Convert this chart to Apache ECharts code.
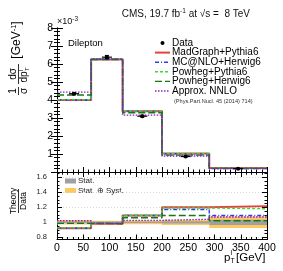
<!DOCTYPE html>
<html>
<head>
<meta charset="utf-8">
<script src="https://cdn.jsdelivr.net/npm/echarts@6/dist/echarts.min.js"></script>
<style>html,body{margin:0;padding:0;background:#fff}#c{width:283px;height:271px}</style>
</head>
<body>
<div id="c"></div>
<script>
// ---- data (top panel values are in units of 1e-3 GeV^-1) ----
const binEdges = [0, 65, 125, 200, 290, 400];
const dataVals = [4.35, 6.38, 3.10, 0.86, 0.185];
const dataErr  = [0.06, 0.09, 0.05, 0.03, 0.015];
const madgraphPythia = [4.00, 6.25, 3.38, 1.03, 0.225];
const mcatnloHerwig  = [4.00, 6.28, 3.38, 1.01, 0.200];
const powhegPythia   = [4.02, 6.28, 3.38, 1.02, 0.218];
const powhegHerwig   = [4.28, 6.25, 3.29, 0.94, 0.189];
const approxNNLO     = [4.44, 6.28, 3.16, 0.89, 0.198];
// ratio panel (Theory/Data)
const ratioMadgraph = [0.92, 0.98, 1.09, 1.20, 1.215];
const ratioMcatnlo  = [0.92, 0.985, 1.09, 1.17, 1.09];
const ratioPowPy    = [0.925, 0.985, 1.09, 1.19, 1.18];
const ratioPowHw    = [0.985, 0.98, 1.06, 1.09, 1.02];
const ratioNNLO     = [1.02, 0.985, 1.025, 1.04, 1.07];
const statHalf  = [0.010, 0.010, 0.010, 0.015, 0.035];
const totalHalf = [0.030, 0.020, 0.025, 0.035, 0.078];
const topYTicks = [1, 2, 3, 4, 5, 6, 7, 8];
const ratioYTicks = [0.8, 1.0, 1.2, 1.4, 1.6];

const FONT = 'Liberation Sans, Arial, sans-serif';
const styles = {
  madgraph: {color: '#e8413c', width: 2, type: 'solid'},
  mcatnlo:  {color: '#2a3cf0', width: 1.4, type: [4, 2, 1, 2]},
  powpy:    {color: '#33dd33', width: 1.4, type: [3, 2]},
  powhw:    {color: '#137a13', width: 1.4, type: [7, 3]},
  nnlo:     {color: '#8a1fd0', width: 1.4, type: [1.5, 1.5]}
};

function stepData(vals) {
  return binEdges.map((e, i) => [e, vals[Math.min(i, vals.length - 1)]]);
}
function stepSeries(vals, st, xi, yi, z) {
  return {type: 'line', step: 'end', data: stepData(vals), xAxisIndex: xi, yAxisIndex: yi,
    showSymbol: false, symbol: 'none', z: z, animation: false, silent: true,
    lineStyle: {color: st.color, width: st.width, type: st.type}};
}
function range(a, b, s) { const r = []; for (let v = a; v <= b + 1e-9; v += s) r.push(+v.toFixed(4)); return r; }

const chart = echarts.init(document.getElementById('c'), null, {renderer: 'canvas'});

const G0 = {left: 57, top: 28, width: 210, height: 144};
const G1 = {left: 57, top: 172, width: 210, height: 67.5};

const axLine = {show: true, lineStyle: {color: '#000', width: 1}};
function xAx(grid, pos, labels) {
  return {type: 'value', gridIndex: grid, position: pos, min: 0, max: 400, interval: 50,
    axisLine: axLine, splitLine: {show: false},
    axisTick: {show: true, inside: true, length: 5, lineStyle: {color: '#000'}},
    minorTick: {show: true, splitNumber: 5, length: 2.5, lineStyle: {color: '#000'}},
    axisLabel: labels ? {show: true, fontSize: 10.5, color: '#000', fontFamily: FONT, margin: 3,
      showMinLabel: true, showMaxLabel: true} : {show: false}};
}
const ratioMinor = range(0.8, 1.65, 0.05);
function rY(pos, minor, labels) {
  return {type: 'value', gridIndex: 1, position: pos, min: 0.77, max: 1.67, offset: 0,
    axisLine: axLine,
    splitLine: (labels ? {show: true, lineStyle: {color: '#d8d8d8', type: [1, 2], width: 1}} : {show: false}),
    axisTick: {show: true, inside: true, length: minor ? 2.5 : 5, customValues: minor ? ratioMinor : ratioYTicks, lineStyle: {color: '#000'}},
    axisLabel: labels ? {show: true, fontSize: 7.5, color: '#222', fontFamily: FONT, margin: 10,
      customValues: ratioYTicks, formatter: v => String(+v.toFixed(1))} : {show: false}};
}

const option = {
  animation: false,
  backgroundColor: '#fff',
  grid: [
    Object.assign({containLabel: false}, G0),
    Object.assign({containLabel: false}, G1)
  ],
  xAxis: [xAx(0, 'bottom', false), xAx(0, 'top', false), xAx(1, 'bottom', true), xAx(1, 'top', false)],
  yAxis: [
    {type: 'value', gridIndex: 0, position: 'left', min: 0, max: 8, interval: 1,
      axisLine: axLine, splitLine: {show: false},
      axisTick: {show: true, inside: true, length: 6, lineStyle: {color: '#000'}},
      minorTick: {show: true, splitNumber: 5, length: 3, lineStyle: {color: '#000'}},
      axisLabel: {show: true, fontSize: 10.5, color: '#000', fontFamily: FONT, margin: 4,
        formatter: v => (topYTicks.indexOf(v) >= 0 ? String(v) : '')}},
    {type: 'value', gridIndex: 0, position: 'right', min: 0, max: 8, interval: 1,
      axisLine: axLine, splitLine: {show: false},
      axisTick: {show: true, inside: true, length: 6, lineStyle: {color: '#000'}},
      minorTick: {show: true, splitNumber: 5, length: 3, lineStyle: {color: '#000'}},
      axisLabel: {show: false}},
    rY('left', false, true), rY('left', true, false), rY('right', false, false), rY('right', true, false)
  ],
  series: [
    stepSeries(madgraphPythia, styles.madgraph, 0, 0, 2),
    stepSeries(mcatnloHerwig, styles.mcatnlo, 0, 0, 3),
    stepSeries(powhegPythia, styles.powpy, 0, 0, 4),
    stepSeries(powhegHerwig, styles.powhw, 0, 0, 5),
    stepSeries(approxNNLO, styles.nnlo, 0, 0, 6),
    {type: 'custom', xAxisIndex: 0, yAxisIndex: 0, z: 10, silent: true,
      data: dataVals.map((v, i) => [(binEdges[i] + binEdges[i + 1]) / 2, v, dataErr[i]]),
      renderItem: function (params, api) {
        const x = api.value(0), y = api.value(1), e = api.value(2);
        const c = api.coord([x, y]), t = api.coord([x, y + e]), b = api.coord([x, y - e]);
        const st = {stroke: '#000', lineWidth: 1.2};
        return {type: 'group', children: [
          {type: 'line', shape: {x1: c[0], y1: t[1], x2: c[0], y2: b[1]}, style: st},
          {type: 'line', shape: {x1: c[0] - 2, y1: t[1], x2: c[0] + 2, y2: t[1]}, style: st},
          {type: 'line', shape: {x1: c[0] - 2, y1: b[1], x2: c[0] + 2, y2: b[1]}, style: st},
          {type: 'line', shape: {x1: c[0] - 5, y1: c[1], x2: c[0] + 5, y2: c[1]}, style: st},
          {type: 'circle', shape: {cx: c[0], cy: c[1], r: 2}, style: {fill: '#000'}}
        ]};
      }},
    // ratio bands
    {type: 'custom', xAxisIndex: 2, yAxisIndex: 2, z: 1, silent: true,
      data: totalHalf.map((h, i) => [binEdges[i], binEdges[i + 1], 1 - h, 1 + h]),
      renderItem: function (params, api) {
        const p0 = api.coord([api.value(0), api.value(3)]), p1 = api.coord([api.value(1), api.value(2)]);
        return {type: 'rect', shape: {x: p0[0], y: p0[1], width: p1[0] - p0[0], height: p1[1] - p0[1]}, style: {fill: '#fdc95e'}};
      }},
    {type: 'custom', xAxisIndex: 2, yAxisIndex: 2, z: 1.5, silent: true,
      data: statHalf.map((h, i) => [binEdges[i], binEdges[i + 1], 1 - h, 1 + h]),
      renderItem: function (params, api) {
        const p0 = api.coord([api.value(0), api.value(3)]), p1 = api.coord([api.value(1), api.value(2)]);
        return {type: 'rect', shape: {x: p0[0], y: p0[1], width: p1[0] - p0[0], height: p1[1] - p0[1]}, style: {fill: '#a0a0a0'}};
      }},
    stepSeries(ratioMadgraph, styles.madgraph, 2, 2, 2),
    stepSeries(ratioMcatnlo, styles.mcatnlo, 2, 2, 3),
    stepSeries(ratioPowPy, styles.powpy, 2, 2, 4),
    stepSeries(ratioPowHw, styles.powhw, 2, 2, 5),
    stepSeries(ratioNNLO, styles.nnlo, 2, 2, 6)
  ],
  graphic: []
};

// ---- texts & legend ----
const g = [];
function txt(x, y, text, size, opts) {
  g.push(Object.assign({type: 'text', x: x, y: y, silent: true,
    style: Object.assign({text: text, fontSize: size, fontFamily: FONT, fill: '#000',
      align: 'left', verticalAlign: 'middle'}, (opts && opts.style) || {})}, (opts && opts.el) || {}));
}
// title
g.push({type: 'text', x: 250, y: 14, silent: true, style: {
  text: '{a|CMS, 19.7 fb}{s|-1}{a| at √s =  8 TeV}', align: 'right', verticalAlign: 'middle',
  rich: {a: {fontSize: 10, fontFamily: FONT, fill: '#111'}, s: {fontSize: 6.5, fontFamily: FONT, fill: '#111', padding: [0, 0, 6, 0]}}}});
// x10^-3
g.push({type: 'text', x: 57, y: 22, silent: true, style: {
  text: '{a|×10}{s|-3}', align: 'left', verticalAlign: 'middle',
  rich: {a: {fontSize: 9, fontFamily: FONT, fill: '#111'}, s: {fontSize: 6.5, fontFamily: FONT, fill: '#111', padding: [0, 0, 6, 0]}}}});
txt(68, 43, 'Dilepton', 9.5);

// legend
const legItems = [
  {name: 'MadGraph+Pythia6', st: styles.madgraph},
  {name: 'MC@NLO+Herwig6', st: styles.mcatnlo},
  {name: 'Powheg+Pythia6', st: styles.powpy},
  {name: 'Powheg+Herwig6', st: styles.powhw},
  {name: 'Approx. NNLO', st: styles.nnlo}
];
const legX0 = 155, legX1 = 170, legTx = 172, legY0 = 43, legDy = 9.6;
g.push({type: 'circle', shape: {cx: 162.5, cy: legY0, r: 2}, style: {fill: '#000'}, silent: true});
txt(legTx, legY0, 'Data', 10);
legItems.forEach((it, i) => {
  const y = legY0 + (i + 1) * legDy;
  g.push({type: 'line', silent: true, shape: {x1: legX0, y1: y, x2: legX1, y2: y},
    style: {stroke: it.st.color, lineWidth: it.st.width, lineDash: Array.isArray(it.st.type) ? it.st.type : null}});
  txt(legTx, y, it.name, 10);
});
txt(174, legY0 + 6 * legDy + 0.5, '(Phys.Part.Nucl. 45 (2014) 714)', 5.6, {style: {fill: '#333'}});

// ratio legend
g.push({type: 'rect', silent: true, shape: {x: 65, y: 178.5, width: 11, height: 5}, style: {fill: '#a0a0a0'}});
txt(78, 181, 'Stat.', 8, {style: {fill: '#222'}});
g.push({type: 'rect', silent: true, shape: {x: 65, y: 188, width: 11, height: 5}, style: {fill: '#fdc95e'}});
txt(78, 190.5, 'Stat. ⊕ Syst.', 8, {style: {fill: '#222'}});

// top y-axis title (rotated group)
g.push({type: 'group', x: 18.5, y: 60, rotation: Math.PI / 2, silent: true, children: [
  {type: 'text', x: -31, y: -5.5, style: {text: '1', fontSize: 10, fontFamily: FONT, fill: '#000', align: 'center', verticalAlign: 'middle'}},
  {type: 'line', shape: {x1: -35, y1: 0, x2: -27, y2: 0}, style: {stroke: '#000', lineWidth: 0.8}},
  {type: 'text', x: -31, y: 5.5, style: {text: 'σ', fontSize: 10, fontFamily: FONT, fill: '#000', align: 'center', verticalAlign: 'middle'}},
  {type: 'text', x: -14, y: -5.5, style: {text: 'dσ', fontSize: 10, fontFamily: FONT, fill: '#000', align: 'center', verticalAlign: 'middle'}},
  {type: 'line', shape: {x1: -24, y1: 0, x2: -4, y2: 0}, style: {stroke: '#000', lineWidth: 0.8}},
  {type: 'text', x: -17, y: 5.5, style: {text: 'dp', fontSize: 10, fontFamily: FONT, fill: '#000', align: 'center', verticalAlign: 'middle'}},
  {type: 'text', x: -11, y: 9, style: {text: 'T', fontSize: 6, fontFamily: FONT, fill: '#000', align: 'left', verticalAlign: 'middle'}},
  {type: 'text', x: -11, y: 2.5, style: {text: 'l', fontSize: 6, fontFamily: FONT, fill: '#000', align: 'left', verticalAlign: 'middle'}},
  {type: 'text', x: 20, y: -1.5, style: {text: '{a|[GeV}{s|-1}{a|]}', align: 'center', verticalAlign: 'middle',
    rich: {a: {fontSize: 12, fontFamily: FONT, fill: '#000'}, s: {fontSize: 7.5, fontFamily: FONT, fill: '#000', padding: [0, 0, 7, 0]}}}}
]});
// ratio y-axis title
g.push({type: 'group', x: 18.5, y: 201, rotation: Math.PI / 2, silent: true, children: [
  {type: 'text', x: 0, y: -5, style: {text: 'Theory', fontSize: 8.5, fontFamily: FONT, fill: '#000', align: 'center', verticalAlign: 'middle'}},
  {type: 'line', shape: {x1: -12, y1: 0, x2: 12, y2: 0}, style: {stroke: '#000', lineWidth: 0.8}},
  {type: 'text', x: 0, y: 5, style: {text: 'Data', fontSize: 8.5, fontFamily: FONT, fill: '#000', align: 'center', verticalAlign: 'middle'}}
]});
// x-axis title p_T^l [GeV]
txt(224, 257.5, 'p', 11.5);
txt(230.5, 261, 'T', 7);
txt(230.5, 253, 'l', 7);
txt(236, 257.5, '[GeV]', 11.5);

option.graphic = g;
chart.setOption(option);
</script>
</body>
</html>
